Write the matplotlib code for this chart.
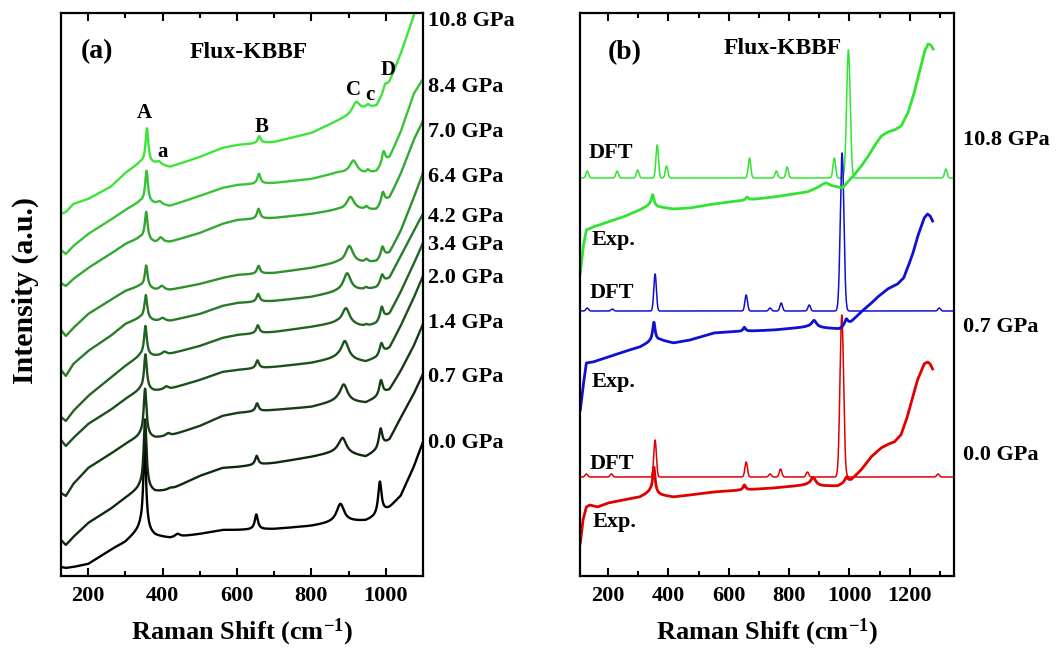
import matplotlib
matplotlib.use('Agg')
import matplotlib.pyplot as plt
import matplotlib.transforms as mtransforms
import numpy as np

plt.rcParams['font.family'] = 'Liberation Serif'
plt.rcParams['font.weight'] = 'bold'
plt.rcParams['mathtext.fontset'] = 'custom'
plt.rcParams['mathtext.rm'] = 'Liberation Serif:bold'
plt.rcParams['mathtext.bf'] = 'Liberation Serif:bold'
plt.rcParams['mathtext.default'] = 'bf'

# ---------------- panel (a): pressure series ----------------
pressures = ['0.0', '0.7', '1.4', '2.0', '3.4', '4.2', '6.4', '7.0', '8.4', '10.8']
label_y_a = [133, 199, 253, 298, 331, 359, 399, 444, 489, 555]

# baseline (arbitrary intensity units)
knot_x = [127, 140, 160, 200, 260, 300, 340, 380, 420, 500, 560, 600, 700, 800, 870, 946, 975, 1010, 1040, 1075, 1100]
base_00 = [9, 8, 9, 12, 26, 34, 47, 40, 38, 42, 46, 46, 47, 50, 54, 55, 59, 68, 80, 109, 134]
base_07 = [36, 31, 39, 53, 67, 78, 88, 84, 86, 100, 108, 109, 113, 119, 124, 119, 125, 136, 158, 182, 202]
base_14 = [83, 80, 92, 108, 122, 132, 140, 138, 140, 150, 160, 163, 166, 169, 175, 173, 178, 186, 205, 230, 252]
base_20 = [136, 130, 138, 152, 166, 177, 186, 185, 187, 196, 204, 206, 209, 213, 218, 214, 218, 228, 250, 278, 300]
base_34 = [159, 155, 165, 180, 198, 210, 220, 220, 222, 230, 238, 241, 244, 249, 253, 249, 252, 262, 284, 312, 333]
base_42 = [206, 200, 212, 225, 240, 252, 258, 255, 255, 262, 270, 273, 275, 279, 284, 286, 288, 298, 320, 345, 362]
base_64 = [246, 240, 248, 262, 276, 285, 290, 286, 286, 292, 298, 301, 303, 308, 313, 313, 314, 323, 345, 378, 403]
base_70 = [293, 290, 297, 308, 322, 332, 338, 333, 334, 343, 352, 356, 358, 362, 366, 366, 366, 378, 402, 436, 455]
base_84 = [326, 322, 330, 342, 356, 366, 374, 372, 370, 380, 388, 391, 393, 397, 403, 402, 404, 418, 444, 482, 497]
base_108 = [362, 364, 372, 377, 389, 403, 413, 412, 409, 419, 428, 431, 434, 443, 455, 467, 470, 494, 522, 560, 600]
bases = [base_00, base_07, base_14, base_20, base_34, base_42, base_64, base_70, base_84, base_108]

# Raman modes: position (cm-1) and height for each pressure
A_pos = [352, 353, 353, 354, 354, 355, 356, 356, 357, 358]
A_amp = [88, 70, 48, 36, 30, 24, 22, 28, 32, 35]
a_pos = [440, 420, 415, 410, 405, 400, 398, 395, 392, 390]
a_amp = [3, 2, 3, 3, 3, 3, 4, 5, 3, 3]
B_pos = [652, 653, 654, 655, 656, 657, 658, 658, 659, 660]
B_amp = [15, 9, 8, 8, 8, 8, 8, 10, 10, 7]
C_pos = [878, 884, 887, 890, 893, 896, 902, 905, 913, 920]
C_amp = [18, 15, 17, 18, 16, 18, 17, 13, 13, 11]
c_pos = [945, 945, 946, 946, 947, 947, 948, 948, 952, 952]
c_amp = [0, 0, 0, 0, 2, 2, 3, 3, 3, 3]
D_pos = [984, 986, 987, 988, 989, 990, 991, 992, 994, 998]
D_amp = [33, 19, 15, 11, 13, 9, 11, 12, 13, 6]
mode_fwhm = {'A': 9, 'a': 15, 'B': 10, 'C': 24, 'c': 10, 'D': 11}

green_shades = ['#000000', '#0e290e', '#163d16', '#1c511c', '#226522', '#287a28',
                '#2d902d', '#32a832', '#37c437', '#3ce43c']

# ---------------- panel (b): experiment vs DFT ----------------
exp108_x = [108, 118, 128, 150, 200, 250, 305, 339, 367, 417, 472, 528, 600, 661, 750, 861, 906, 950, 978,
            1000, 1011, 1040, 1061, 1085, 1106, 1128, 1150, 1172, 1194, 1212, 1228, 1250, 1261, 1270, 1278]
exp108_y = [303, 330, 346, 349, 354, 359, 366, 371, 369, 367, 368, 371, 374, 376, 379, 384, 389, 389, 388,
            396, 399, 410, 419, 431, 440, 444, 446, 450, 463, 480, 499, 525, 532, 531, 527]
exp108_peaks = [(348, 11, 10), (661, 3, 10), (922, 4, 30)]

exp07_x = [108, 117, 128, 150, 200, 250, 306, 339, 372, 417, 472, 550, 600, 750, 861, 917, 967, 1006,
           1039, 1070, 1094, 1127, 1160, 1180, 1193, 1210, 1226, 1248, 1259, 1268, 1276]
exp07_y = [166, 189, 213, 214, 219, 224, 229, 234, 236, 233, 236, 243, 244, 246, 249, 248, 247, 254,
           264, 272, 279, 287, 292, 298, 308, 322, 339, 358, 362, 360, 355]
exp07_peaks = [(352, 19, 10), (652, 4, 10), (883, 7, 20), (990, 6, 12)]

exp00_x = [108, 117, 128, 139, 165, 200, 250, 306, 339, 372, 417, 472, 550, 600, 750, 861, 906, 961,
           1006, 1039, 1072, 1105, 1130, 1149, 1171, 1190, 1204, 1226, 1248, 1259, 1268, 1276]
exp00_y = [33, 56, 69, 71, 69, 73, 76, 79, 84, 81, 79, 81, 84, 85, 88, 91, 90, 90,
           96, 106, 119, 128, 132, 134, 141, 157, 172, 196, 212, 214, 212, 207]
exp00_peaks = [(352, 26, 10), (652, 5, 10), (880, 8, 20), (990, 5, 12)]

dft108_base = 398
dft108_pos = [131, 230, 298, 363, 394, 669, 758, 794, 950, 997, 1320]
dft108_amp = [7, 7, 8, 33, 12, 20, 7, 11, 20, 128, 9]
dft07_base = 265
dft07_pos = [131, 214, 356, 658, 737, 774, 867, 976, 1298]
dft07_amp = [3, 2, 37, 16, 3, 8, 6, 158, 3]
dft00_base = 99
dft00_pos = [128, 211, 356, 658, 737, 772, 861, 975, 1294]
dft00_amp = [3, 3, 37, 15, 3, 8, 5, 162, 3]

col_108 = '#33e333'
col_07 = '#1010d0'
col_00 = '#e00000'


def lorentz(x, pos, amp, fwhm):
    return amp / (1.0 + ((x - pos) / (fwhm / 2.0)) ** 2)


def gauss(x, pos, amp, fwhm):
    return amp * np.exp(-4.0 * np.log(2) * ((x - pos) / fwhm) ** 2)


fig = plt.figure(figsize=(10.56, 6.5), dpi=100)
ax_a = fig.add_axes([61 / 1056, 74 / 650, 362 / 1056, 563 / 650])
ax_b = fig.add_axes([580 / 1056, 74 / 650, 374 / 1056, 563 / 650])

# ---- panel (a)
xa = np.linspace(127, 1100, 2500)
for i, p in enumerate(pressures):
    y = np.interp(xa, knot_x, bases[i])
    y = y + lorentz(xa, A_pos[i], A_amp[i], mode_fwhm['A'])
    y = y + lorentz(xa, a_pos[i], a_amp[i], mode_fwhm['a'])
    y = y + lorentz(xa, B_pos[i], B_amp[i], mode_fwhm['B'])
    y = y + lorentz(xa, C_pos[i], C_amp[i], mode_fwhm['C'])
    y = y + lorentz(xa, c_pos[i], c_amp[i], mode_fwhm['c'])
    y = y + lorentz(xa, D_pos[i], D_amp[i], mode_fwhm['D'])
    ax_a.plot(xa, y, color=green_shades[i], lw=1.7)

trans_a = mtransforms.blended_transform_factory(ax_a.transAxes, ax_a.transData)
for p, ly in zip(pressures, label_y_a):
    ax_a.text(1.014, ly, p + ' GPa', transform=trans_a, fontsize=16, fontweight='bold',
              ha='left', va='center', clip_on=False)

ax_a.text(0.099, 524, '(a)', transform=trans_a, fontsize=20, fontweight='bold', ha='center', va='center')
ax_a.text(632, 524, 'Flux-KBBF', fontsize=17, fontweight='bold', ha='center', va='center')
for txt, tx, ty in [('A', 350, 463), ('a', 401, 424), ('B', 667, 449),
                    ('C', 914, 486), ('c', 957, 481), ('D', 1005, 506)]:
    ax_a.text(tx, ty, txt, fontsize=15, fontweight='bold', ha='center', va='center')

ax_a.set_xlim(127, 1100)
ax_a.set_ylim(0, 563)
ax_a.set_xticks([200, 400, 600, 800, 1000])
ax_a.set_xticks([300, 500, 700, 900], minor=True)

# ---- panel (b)
xb = np.linspace(107, 1347, 3000)
for base, pos, amp, col in [(dft108_base, dft108_pos, dft108_amp, col_108),
                            (dft07_base, dft07_pos, dft07_amp, col_07),
                            (dft00_base, dft00_pos, dft00_amp, col_00)]:
    y = np.full_like(xb, base, dtype=float)
    for ps, am in zip(pos, amp):
        y = y + gauss(xb, ps, am, 14 if am > 100 else 10)
    ax_b.plot(xb, y, color=col, lw=1.1)

for ex, ey, pk, col in [(exp108_x, exp108_y, exp108_peaks, col_108),
                        (exp07_x, exp07_y, exp07_peaks, col_07),
                        (exp00_x, exp00_y, exp00_peaks, col_00)]:
    xe = np.linspace(ex[0], ex[-1], 2500)
    y = np.interp(xe, ex, ey)
    for ps, am, fw in pk:
        y = y + lorentz(xe, ps, am, fw)
    ax_b.plot(xe, y, color=col, lw=2.0)

trans_b = mtransforms.blended_transform_factory(ax_b.transAxes, ax_b.transData)
for txt, ly in [('10.8 GPa', 436), ('0.7 GPa', 249), ('0.0 GPa', 121)]:
    ax_b.text(1.024, ly, txt, transform=trans_b, fontsize=16, fontweight='bold',
              ha='left', va='center', clip_on=False)
for txt, tx, ty in [('DFT', 134, 423), ('DFT', 140, 283), ('DFT', 140, 112),
                    ('Exp.', 147, 336), ('Exp.', 147, 194), ('Exp.', 150, 54)]:
    ax_b.text(tx, ty, txt, fontsize=16, fontweight='bold', ha='left', va='center')
ax_b.text(257, 523, '(b)', fontsize=20, fontweight='bold', ha='center', va='center')
ax_b.text(778, 528, 'Flux-KBBF', fontsize=17, fontweight='bold', ha='center', va='center')

ax_b.set_xlim(107, 1347)
ax_b.set_ylim(0, 563)
ax_b.set_xticks([200, 400, 600, 800, 1000, 1200])
ax_b.set_xticks([300, 500, 700, 900, 1100, 1300], minor=True)

for ax in (ax_a, ax_b):
    ax.set_yticks([])
    for s in ax.spines.values():
        s.set_linewidth(1.6)
    ax.tick_params(axis='x', which='both', direction='in', top=True, bottom=True,
                   labelsize=16, pad=7, width=1.5)
    ax.tick_params(axis='x', which='major', length=6)
    ax.tick_params(axis='x', which='minor', length=3.5)
    for lab in ax.get_xticklabels():
        lab.set_fontweight('bold')
    ax.set_xlabel('Raman Shift (cm$^{-1}$)', fontsize=19, fontweight='bold', labelpad=8)

fig.text(25 / 1056, 1 - 291 / 650, 'Intensity (a.u.)', rotation=90, fontsize=21.5,
         fontweight='bold', ha='center', va='center')

fig.savefig('out.png', dpi=100)
